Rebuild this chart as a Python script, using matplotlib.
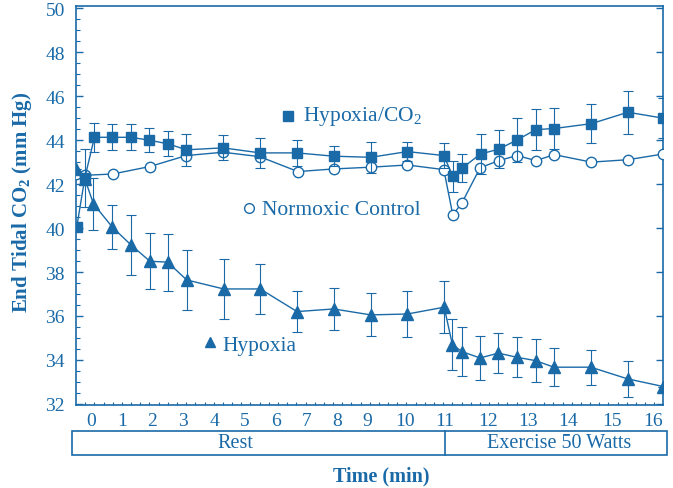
import numpy as np
import matplotlib
matplotlib.use("Agg")
import matplotlib.pyplot as plt
from matplotlib.patches import Rectangle
from matplotlib.ticker import FixedLocator, MultipleLocator
import matplotlib.transforms as mtransforms

# ---- data (time in min, end tidal CO2 in mm Hg) ----
hc_t = [-0.45, -0.19, 0.12, 0.70, 1.31, 1.90, 2.52, 3.10, 4.29, 5.50, 6.69, 7.90, 9.08, 10.06, 10.97,
        11.18, 11.39, 11.82, 12.26, 12.72, 13.19, 13.65, 14.53, 15.39, 16.24]
hc_y = [40.05, 42.28, 44.13, 44.13, 44.13, 44.00, 43.83, 43.56, 43.65, 43.42, 43.42, 43.27, 43.22, 43.48, 43.30,
        42.36, 42.72, 43.37, 43.59, 44.01, 44.48, 44.53, 44.75, 45.27, 45.00]
hc_err = [0.0, 1.3, 0.65, 0.6, 0.6, 0.55, 0.57, 0.73, 0.57, 0.69, 0.6, 0.45, 0.7, 0.45, 0.57,
          0.7, 0.63, 0.9, 0.85, 1.0, 0.95, 0.95, 0.9, 0.97, 0.9]

nc_t = [-0.47, -0.19, 0.71, 1.93, 3.10, 4.29, 5.48, 6.72, 7.90, 9.08, 10.06, 10.97,
        11.18, 11.39, 11.81, 12.26, 12.72, 13.19, 13.65, 14.53, 15.39, 16.24]
nc_y = [42.46, 42.40, 42.46, 42.80, 43.30, 43.45, 43.25, 42.57, 42.69, 42.77, 42.87, 42.66,
        40.60, 41.14, 42.74, 43.07, 43.30, 43.07, 43.34, 43.00, 43.11, 43.37]

hx_t = [-0.47, -0.19, 0.09, 0.70, 1.31, 1.93, 2.50, 3.11, 4.31, 5.50, 6.69, 7.90, 9.08, 10.06, 10.98,
        11.17, 11.39, 11.81, 12.25, 12.72, 13.18, 13.64, 14.52, 15.38, 16.24]
hx_y = [42.69, 42.24, 41.10, 40.04, 39.23, 38.49, 38.45, 37.64, 37.23, 37.23, 36.20, 36.32, 36.05, 36.09, 36.40,
        34.70, 34.38, 34.09, 34.31, 34.12, 33.97, 33.67, 33.67, 33.14, 32.79]
hx_err = [0.0, 0.0, 1.2, 1.0, 1.36, 1.27, 1.3, 1.38, 1.36, 1.14, 0.95, 0.95, 0.98, 1.04, 1.18,
          1.15, 1.1, 1.0, 0.92, 0.91, 0.98, 0.86, 0.8, 0.82, 0.0]

minutes = list(range(0, 17))
phases = ["Rest", "Exercise 50 Watts"]

# ---- stretched time axis (exercise drawn wider than rest) ----
knot_u = np.array([90.7, 121.7, 152, 183.3, 214, 245, 275.5, 306.7, 336.7, 367.7,
                   405, 445, 488.3, 528.3, 568.3, 611.7, 653.3])
knot_t = np.array(minutes, float)
lo_slope = knot_u[1] - knot_u[0]
hi_slope = knot_u[-1] - knot_u[-2]


def fwd(t):
    t = np.asarray(t, float)
    u = np.interp(t, knot_t, knot_u)
    u = np.where(t < knot_t[0], knot_u[0] + (t - knot_t[0]) * lo_slope, u)
    u = np.where(t > knot_t[-1], knot_u[-1] + (t - knot_t[-1]) * hi_slope, u)
    return u


def inv(u):
    u = np.asarray(u, float)
    t = np.interp(u, knot_u, knot_t)
    t = np.where(u < knot_u[0], knot_t[0] + (u - knot_u[0]) / lo_slope, t)
    t = np.where(u > knot_u[-1], knot_t[-1] + (u - knot_u[-1]) / hi_slope, t)
    return t


blue = "#1a6aa8"
plt.rcParams["font.family"] = ["Liberation Serif", "DejaVu Serif"]
plt.rcParams["mathtext.fontset"] = "custom"
plt.rcParams["mathtext.rm"] = "Liberation Serif"
plt.rcParams["mathtext.bf"] = "Liberation Serif:bold"

fig = plt.figure(figsize=(6.73, 4.89), dpi=100)
ax = fig.add_axes([76 / 673, 1 - 406 / 489, 587.3 / 673, 398.7 / 489])
ax.set_xscale("function", functions=(fwd, inv))
ax.set_xlim(float(inv(76.0)), float(inv(663.3)))
ax.set_ylim(31.95, 50.09)

ax.plot(nc_t, nc_y, color=blue, lw=1.0, marker="o", ms=7.5, mfc="white", mec=blue, mew=1.0, zorder=3)
ax.errorbar(hc_t, hc_y, yerr=hc_err, color=blue, lw=1.0, marker="s", ms=7.5, mec=blue,
            elinewidth=0.8, capsize=3.5, capthick=0.8, zorder=4)
ax.errorbar(hx_t, hx_y, yerr=hx_err, color=blue, lw=1.0, marker="^", ms=8.5, mec=blue,
            elinewidth=0.8, capsize=3.5, capthick=0.8, zorder=4)

for s in ax.spines.values():
    s.set_color(blue)
    s.set_linewidth(1.2)

ax.xaxis.set_major_locator(FixedLocator(minutes))
ax.set_xticklabels([str(m) for m in minutes])
ax.xaxis.set_minor_locator(FixedLocator(inv(76 + 9.18 * np.arange(1, 64))))
ax.yaxis.set_major_locator(MultipleLocator(2))
ax.yaxis.set_minor_locator(MultipleLocator(0.5))
ax.tick_params(axis="x", which="major", direction="in", length=0, pad=5, labelsize=14, colors=blue)
ax.tick_params(axis="x", which="minor", direction="in", length=2.5, width=0.8, color=blue)
ax.tick_params(axis="y", which="major", direction="in", length=5, width=1.0, right=True,
               labelsize=14, colors=blue, pad=8)
ax.tick_params(axis="y", which="minor", direction="in", length=3, width=0.8, color=blue, right=False)

ax.set_ylabel(r"End Tidal CO$_{\mathbf{2}}$ (mm Hg)", fontsize=15, fontweight="bold", color=blue)
ax.yaxis.set_label_coords(-0.072, 0.51)
fig.text(381 / 673, 1 - 476 / 489, "Time (min)", ha="center", va="center",
         fontsize=14.5, fontweight="bold", color=blue)

# in-plot labels
ax.plot([0.3615], [0.724], "s", ms=6.5, color=blue, transform=ax.transAxes)
ax.text(0.3865, 0.727, r"Hypoxia/CO$_2$", transform=ax.transAxes, fontsize=15.5, color=blue, va="center")
ax.plot([0.2946], [0.494], "o", ms=7, mfc="white", mec=blue, mew=1.0, transform=ax.transAxes)
ax.text(0.3167, 0.490, "Normoxic Control", transform=ax.transAxes, fontsize=15.5, color=blue, va="center")
ax.plot([0.2282], [0.159], "^", ms=7.5, color=blue, transform=ax.transAxes)
ax.text(0.2486, 0.149, "Hypoxia", transform=ax.transAxes, fontsize=15.5, color=blue, va="center")

# phase box under the axis
y0 = (406 - 456) / 398.7
y1 = (406 - 432) / 398.7
ax.add_patch(Rectangle((-4 / 587.3, y0), (591 + 4) / 587.3, y1 - y0, transform=ax.transAxes,
                       fill=False, ec=blue, lw=1.2, clip_on=False))
trans = mtransforms.blended_transform_factory(ax.transData, ax.transAxes)
ax.plot([11, 11], [y0, y1], color=blue, lw=1.2, transform=trans, clip_on=False)
ym = (y0 + y1) / 2
ax.text((235 - 76) / 587.3, ym, phases[0], transform=ax.transAxes, ha="center", va="center",
        fontsize=14.5, color=blue)
ax.text((559 - 76) / 587.3, ym, phases[1], transform=ax.transAxes, ha="center", va="center",
        fontsize=14.5, color=blue)

fig.savefig("out.png", dpi=100)
